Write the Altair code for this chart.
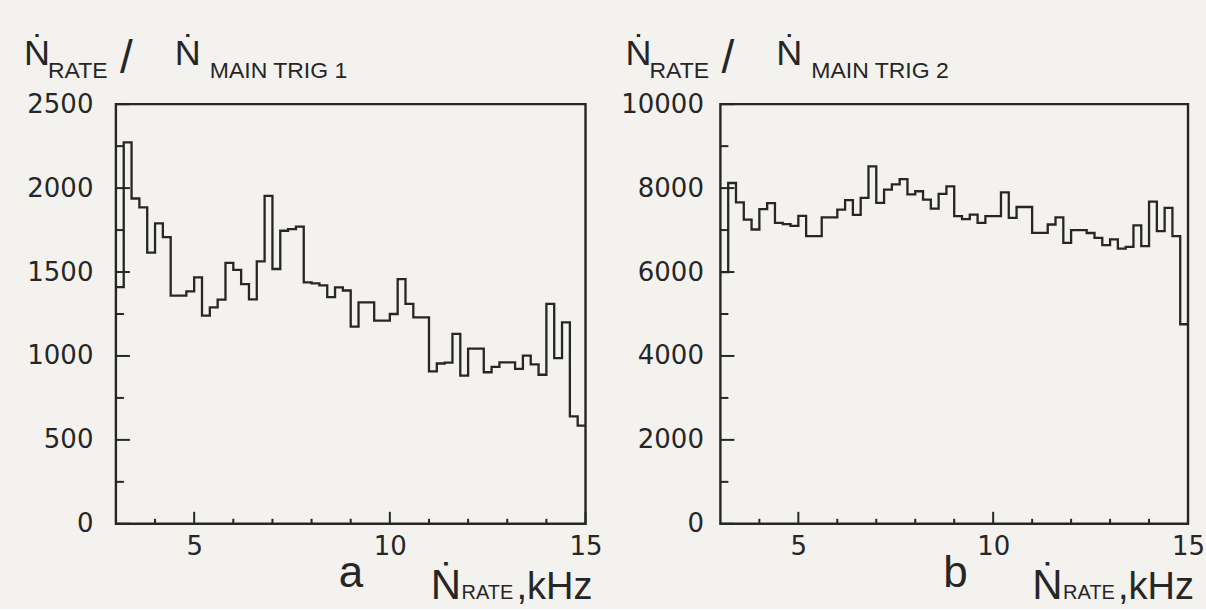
import altair as alt
import numpy as np
import pandas as pd

# Counting-rate ratio per 0.2 kHz bin of N_RATE, from 3 to 15 kHz
trig1_ratio = [1410, 2272, 1938, 1885, 1615, 1790, 1708, 1359, 1359, 1385,
               1468, 1240, 1290, 1335, 1555, 1513, 1428, 1337, 1563, 1954,
               1518, 1746, 1756, 1770, 1438, 1432, 1420, 1350, 1409, 1390,
               1175, 1319, 1319, 1210, 1210, 1250, 1458, 1310, 1230, 1230,
               908, 955, 960, 1131, 883, 1044, 1044, 903, 935, 962,
               962, 923, 1002, 950, 888, 1310, 987, 1200, 640, 585]
trig2_ratio = [6000, 8122, 7660, 7250, 7013, 7500, 7640, 7170, 7140, 7100,
               7340, 6855, 6855, 7300, 7300, 7489, 7715, 7360, 7765, 8519,
               7647, 7965, 8090, 8215, 7850, 7925, 7727, 7513, 7861, 8043,
               7330, 7260, 7370, 7170, 7330, 7330, 7900, 7290, 7550, 7550,
               6934, 6934, 7132, 7300, 6696, 7000, 7000, 6930, 6815, 6640,
               6780, 6560, 6600, 7110, 6617, 7680, 6974, 7528, 6855, 4755]
rate_min, rate_max, bin_width = 3.0, 15.0, 0.2

x_major = [5, 10, 15]
x_minor = [4, 6, 7, 8, 9, 11, 12, 13, 14]
ya_major = [0, 500, 1000, 1500, 2000, 2500]
ya_minor = [250, 750, 1250, 1750, 2250]
yb_major = [0, 2000, 4000, 6000, 8000, 10000]
yb_minor = [1000, 3000, 5000, 7000, 9000]

INK = "#262626"
PAPER = "#f4f2ee"
NUM_FONT = "DejaVu Sans"
TXT_FONT = "Liberation Sans"
H = 420


def label(text, x, y, size, font=TXT_FONT):
    return alt.Chart(pd.DataFrame({"s": [text]})).mark_text(
        align="left", baseline="alphabetic", font=font, fontSize=size, color=INK
    ).encode(text="s:N", x=alt.value(x), y=alt.value(y))


def panel(values, y_max, y_major, y_minor, width, trig_name, letter,
          y_pad, head_dx, foot_dx):
    edges = rate_min + bin_width * np.arange(len(values) + 1)
    hist = pd.DataFrame({"rate": edges, "n": list(values) + [values[-1]]})
    xs = alt.Scale(domain=[rate_min, rate_max], nice=False, zero=False)
    ys = alt.Scale(domain=[0, y_max], nice=False)
    x_axis = alt.Axis(
        values=x_major, ticks=False, domain=False, grid=False, title=None,
        labelFont=NUM_FONT, labelFontSize=26, labelColor=INK,
        labelPadding=10, labelFlush=False, labelOverlap=False, format="d")
    y_axis = alt.Axis(
        values=y_major, ticks=False, domain=False, grid=False, title=None,
        labelFont=NUM_FONT, labelFontSize=26, labelColor=INK,
        labelPadding=y_pad, labelOverlap=False, format="d")

    line = alt.Chart(hist).mark_line(
        interpolate="step-after", color=INK, strokeWidth=2.3
    ).encode(
        x=alt.X("rate:Q", scale=xs, axis=x_axis),
        y=alt.Y("n:Q", scale=ys, axis=y_axis),
    )

    # inward tick marks along the left and bottom frame
    def yticks(vals, length):
        return alt.Chart(pd.DataFrame({"n": vals})).mark_rule(
            color=INK, strokeWidth=2
        ).encode(y=alt.Y("n:Q", scale=ys, axis=y_axis),
                 x=alt.value(0), x2=alt.value(length))

    def xticks(vals, length):
        return alt.Chart(pd.DataFrame({"rate": vals})).mark_rule(
            color=INK, strokeWidth=2
        ).encode(x=alt.X("rate:Q", scale=xs, axis=x_axis),
                 y=alt.value(H), y2=alt.value(H - length))

    texts = [
        # heading: N_RATE / N_MAIN TRIG
        label("Ṅ", head_dx - 92, -39, 36),
        label("RATE", head_dx - 68, -26, 23),
        label("/", head_dx + 4, -31, 46),
        label("Ṅ", head_dx + 59, -39, 36),
        label(trig_name, head_dx + 94, -26, 23),
        # panel letter and x-axis caption
        label(letter, 223, 483, 44),
        label("Ṅ", foot_dx, 495, 42),
        label("RATE", foot_dx + 31, 495, 20),
        label(",kHz", foot_dx + 86, 495, 38),
    ]

    return alt.layer(
        line,
        yticks(y_major, 14), yticks(y_minor, 8),
        xticks(x_major, 12), xticks(x_minor, 5),
        *texts,
    ).properties(width=width, height=H)


left = panel(trig1_ratio, 2500, ya_major, ya_minor, 470, "MAIN TRIG 1", "a",
             23, 0, 315)
right = panel(trig2_ratio, 10000, yb_major, yb_minor, 468, "MAIN TRIG 2", "b",
              17, -3, 312)

chart = alt.hconcat(left, right, spacing=16).properties(
    background=PAPER,
    padding={"left": 22, "top": 34, "right": 0, "bottom": 0},
).configure_view(stroke=INK, strokeWidth=2.4)

chart.save("out.html", embed_options={"renderer": "svg", "actions": False})
